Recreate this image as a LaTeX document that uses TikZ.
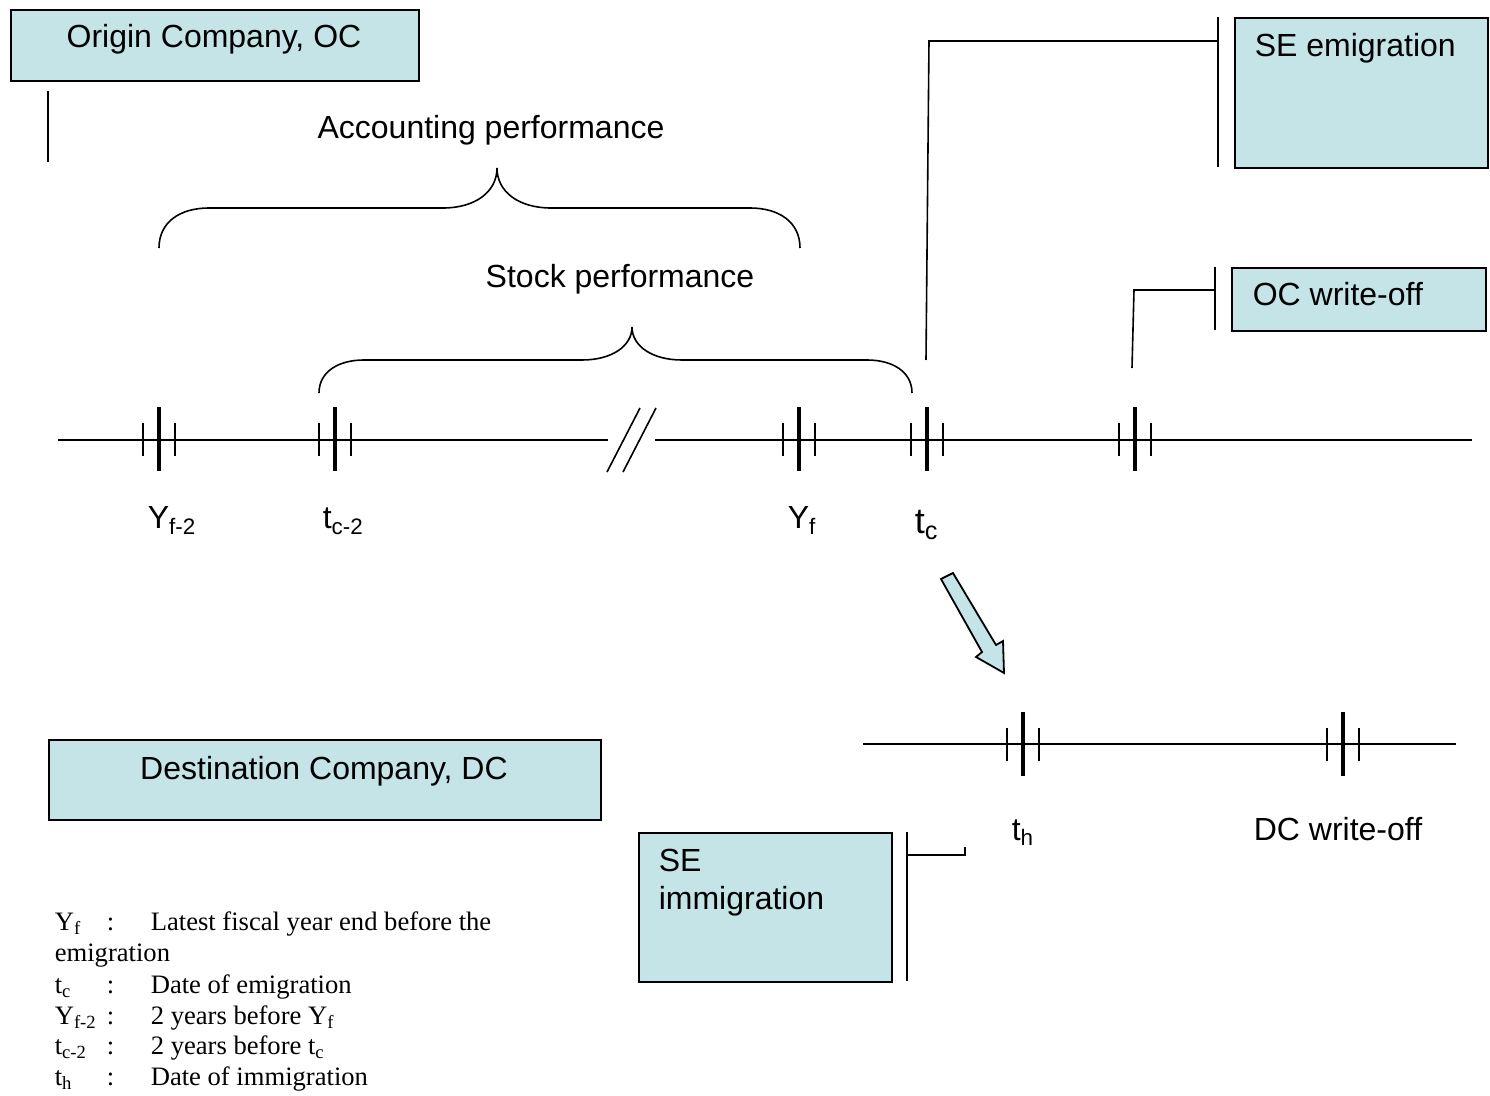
\documentclass[tikz,border=0pt]{standalone}
\usepackage{fontspec}
\setmainfont{Liberation Sans}
\newfontfamily\legendfont{Liberation Serif}
\usepackage{tikz}
\usetikzlibrary{calc,positioning}
\definecolor{boxblue}{RGB}{197,228,232}

\begin{document}
\begin{tikzpicture}[x=0.5pt,y=-0.5pt]
					\tikzstyle{every path}=[line width=0.8pt]
					\tikzstyle{compbox}=[draw,fill=boxblue,line width=0.8pt,inner sep=0pt,anchor=north west]
					\tikzstyle{lbl}=[font=\fontsize{16}{19}\selectfont,inner sep=0pt]
					\tikzstyle{legend}=[font=\legendfont\fontsize{13.3}{15.5}\selectfont,inner sep=0pt,anchor=base west]
					\tikzstyle{bigtick}=[line width=2pt]
					\tikzstyle{smalltick}=[line width=0.75pt]
					\useasboundingbox (0,0) rectangle (1490,1096);

					%% Company boxes
					\node [compbox,minimum width=204pt,minimum height=35.5pt] (oc) at (10,9) {};
					\node [lbl,anchor=base] (octext) at (214,48) {Origin Company, OC};
					\node [compbox,minimum width=276pt,minimum height=40pt] (dc) at (48,739) {};
					\node [lbl,anchor=base] (dctext) at (324,779) {Destination Company, DC};
					\draw (48,91) -- (48,162);

					%% SE and write-off boxes
					\node [compbox,minimum width=126.5pt,minimum height=75pt] (semi) at (1234,17) {};
					\node [lbl,anchor=base west] (semitext) at (1254,57) {SE emigration};
					\node [compbox,minimum width=127pt,minimum height=31.5pt] (ocwo) at (1231,267) {};
					\node [lbl,anchor=base west] (ocwotext) at (1252,306) {OC write-off};
					\node [compbox,minimum width=126.5pt,minimum height=74.5pt] (seim) at (638,832) {};
					\node [lbl,anchor=base west] (seimtext) at (658,871) {SE};
					\node [lbl,anchor=base west] (seimtext2) at (658,909) {immigration};

					%% Braces
					\node [lbl,anchor=base] (acc) at (491,139) {Accounting performance};
					\draw (159,248) .. controls (159,222) and (180,208) .. (209,208) -- (443,208)
					      .. controls (475,208) and (497,192) .. (497,168)
					      .. controls (497,192) and (519,208) .. (551,208) -- (750,208)
					      .. controls (779,208) and (800,222) .. (800,248);
					\node [lbl,anchor=base] (stock) at (620,288) {Stock performance};
					\draw (319,393) .. controls (319,372) and (338,360) .. (364,360) -- (582,360)
					      .. controls (612,360) and (632,346) .. (632,327)
					      .. controls (632,346) and (652,360) .. (682,360) -- (867,360)
					      .. controls (893,360) and (912,372) .. (912,393);

					%% Origin time line
					\draw (58,440) -- (608,440);
					\draw (655,440) -- (1472,440);
					\draw (607,472) -- (640,408);
					\draw (623,472) -- (656,408);
					\foreach \pos/\name in {159/yfb,335/tcb,799/yf,927/tc,1135/ocw} {
					    \coordinate (\name) at (\pos,440);
					    \draw [bigtick] (\pos,407) -- (\pos,471);
					    \draw [smalltick] (\pos-16,423) -- (\pos-16,456);
					    \draw [smalltick] (\pos+16,423) -- (\pos+16,456);
					}
					\node [lbl,anchor=base west] (yfblbl) at (147,529) {Y\textsubscript{f-2}};
					\node [lbl,anchor=base west] (tcblbl) at (322,529) {t\textsubscript{c-2}};
					\node [lbl,anchor=base west] (yflbl) at (787,529) {Y\textsubscript{f}};
					\node [lbl,anchor=base west,font=\fontsize{18}{21}\selectfont] (tclbl) at (914,534) {t\textsubscript{c}};

					%% Connectors to the boxes
					\coordinate (tcfoot) at (926,360);
					\coordinate (semibar) at (1218,41);
					\draw (tcfoot) -- (929,41) -- (semibar);
					\draw (1218,17) -- (1218,167);
					\coordinate (ocwfoot) at (1132,368);
					\coordinate (ocwobar) at (1215,290);
					\draw (ocwfoot) -- (1134,290) -- (ocwobar);
					\draw (1215,267) -- (1215,330);

					%% Move to the destination
					\draw [fill=boxblue,line width=0.9pt,line join=miter]
					    (941,579) -- (982,652) -- (976,657) -- (1004,673)
					    -- (1003,641) -- (996,645) -- (953,573) -- cycle;

					%% Destination time line
					\draw (863,744) -- (1456,744);
					\foreach \pos/\name in {1023/th,1343/dcw} {
					    \coordinate (\name) at (\pos,744);
					    \draw [bigtick] (\pos,712) -- (\pos,776);
					    \draw [smalltick] (\pos-16,728) -- (\pos-16,761);
					    \draw [smalltick] (\pos+16,728) -- (\pos+16,761);
					}
					\node [lbl,anchor=base] (thlbl) at (1023,840) {t\textsubscript{h}};
					\node [lbl,anchor=base] (dcwlbl) at (1338,840) {DC write-off};
					\coordinate (seimbar) at (907,855);
					\draw (965,847) -- (965,855) -- (seimbar);
					\draw (907,832) -- (907,981);

					%% Legend
					\node [legend] (k1) at (54,930) {Y\textsubscript{f}};
					\node [legend] (c1) at (106,930) {:};
					\node [legend] (d1) at (150,930) {Latest fiscal year end before the};
					\node [legend] (d1b) at (54,961) {emigration};
					\node [legend] (k2) at (54,993) {t\textsubscript{c}};
					\node [legend] (c2) at (106,993) {:};
					\node [legend] (d2) at (150,993) {Date of emigration};
					\node [legend] (k3) at (54,1024) {Y\textsubscript{f-2}};
					\node [legend] (c3) at (106,1024) {:};
					\node [legend] (d3) at (150,1024) {2 years before Y\textsubscript{f}};
					\node [legend] (k4) at (54,1054) {t\textsubscript{c-2}};
					\node [legend] (c4) at (106,1054) {:};
					\node [legend] (d4) at (150,1054) {2 years before t\textsubscript{c}};
					\node [legend] (k5) at (54,1085) {t\textsubscript{h}};
					\node [legend] (c5) at (106,1085) {:};
					\node [legend] (d5) at (150,1085) {Date of immigration};

				\end{tikzpicture}
\end{document}
